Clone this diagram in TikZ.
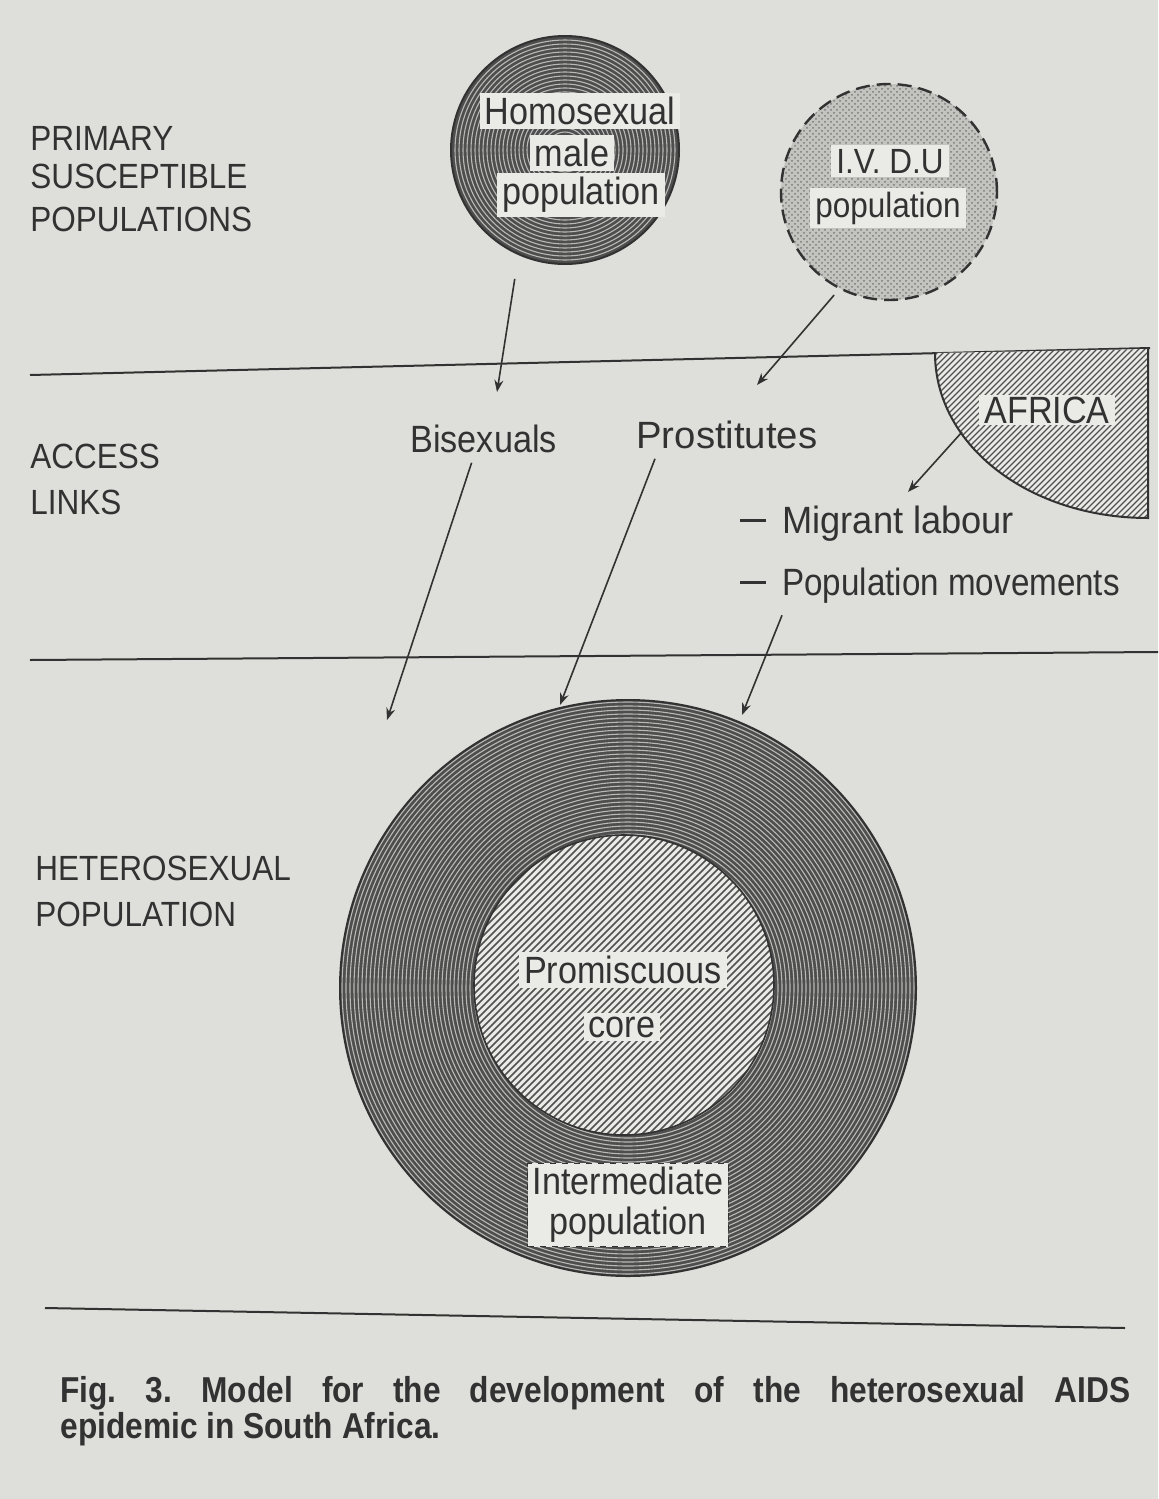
\documentclass[tikz,border=0pt]{standalone}
\usepackage{graphicx}
\usepackage{fontspec}
\setmainfont{Liberation Sans}
\newfontfamily\labfont[FakeStretch=0.9]{Liberation Sans}
\newfontfamily\capfont[FakeStretch=0.88]{Liberation Sans}
\usetikzlibrary{patterns,arrows.meta,calc}
\definecolor{paper}{RGB}{222,222,218}
\definecolor{ink}{RGB}{50,50,50}
\definecolor{darkfill}{RGB}{78,78,78}
\definecolor{ringline}{RGB}{185,185,182}
\definecolor{boxfill}{RGB}{234,234,230}
\newcommand{\bardash}{\rule[5.5pt]{13pt}{1.3pt}\hspace{8pt}}
\tikzset{
  lbl/.style={font=\labfont\fontsize{17.5}{20}\selectfont, text=ink, inner sep=0pt, anchor=base west},
  txt/.style={font=\labfont\fontsize{19}{20}\selectfont, text=ink, inner sep=0pt, anchor=base west},
  tag/.style={font=\labfont\fontsize{19}{20}\selectfont, text=ink, fill=boxfill, inner xsep=2.5pt, inner ysep=2pt},
  arr/.style={draw=ink, line width=0.8pt, -{Stealth[length=6pt,width=4.5pt]}},
  divider/.style={draw=ink, line width=1pt},
  ring/.style={draw=ringline, line width=0.55pt},
  disc/.style={circle, inner sep=0pt, outer sep=0pt, draw=ink, line width=1pt},
}
\begin{document}
\frenchspacing
\begin{tikzpicture}[x=0.5pt,y=-0.5pt]
\fill[paper] (0,0) rectangle (1158,1499);
\useasboundingbox (0,0) rectangle (1158,1499);

% ---------- left labels ----------
\node[lbl] (pri1) at (30,150) {PRIMARY};
\node[lbl] (pri2) at (30,188) {SUSCEPTIBLE};
\node[lbl] (pri3) at (30,231) {POPULATIONS};
\node[lbl] (acc1) at (30,468) {ACCESS};
\node[lbl] (acc2) at (30,514) {LINKS};
\node[lbl] (het1) at (35,880) {HETEROSEXUAL};
\node[lbl] (het2) at (35,926) {POPULATION};

% ---------- homosexual circle ----------
\fill[darkfill] (565,150) circle[radius=57pt];
\foreach \r in {2,6,...,110} \draw[ring] (565,150) circle[radius=\r*0.5pt];
\node[disc, minimum size=114pt] (hc) at (565,150) {};
\node[tag] (hm1) at (580,111) {Homosexual};
\node[tag] (hm2) at (572,153) {male};
\node[tag] (hm3) at (581,195) {population};

% ---------- IVDU circle ----------
\fill[paper!88!black] (889,192) circle[radius=54pt];
\fill[pattern=crosshatch dots, pattern color=ink!65] (889,192) circle[radius=54pt];
\node[disc, minimum size=108pt, dash pattern=on 7pt off 3.5pt, line width=1.2pt] (ivdu) at (889,192) {};
\node[tag, anchor=base, font=\labfont\fontsize{17.5}{20}\selectfont] (iv1) at (890,173) {I.V. D.U};
\node[tag, anchor=base, font=\labfont\fontsize{17.5}{20}\selectfont] (iv2) at (888,217) {population};

% ---------- dividers ----------
\draw[divider] (30,375) -- (1150,348);
\draw[divider] (30,660) -- (1158,652);
\draw[divider] (45,1308) -- (1125,1328);

% ---------- Africa ----------
\begin{scope}
\clip (935,353) .. controls (935,446) and (1030,518) .. (1148,518) -- (1148,349) -- cycle;
\fill[boxfill] (900,330) rectangle (1160,530);
\foreach \k in {0,6,...,480} \draw[ink!85, line width=0.6pt] ({900+\k-200},530) -- ({900+\k},330);
\end{scope}
\draw[ink, line width=1pt] (935,353) .. controls (935,446) and (1030,518) .. (1148,518) -- (1148,349);
\node[tag, inner ysep=1pt] (afr) at (1047,410) {AFRICA};
\coordinate (afs) at (962,432);

% ---------- access link labels ----------
\node[txt] (bis) at (410,452) {Bisexuals};
\node[txt] (pro) at (636,448) {\scalebox{1.12}[1]{Prostitutes}};
\node[txt] (mig) at (740,533) {\bardash\scalebox{1.06}[1]{Migrant labour}};
\node[txt] (pop) at (740,595) {\bardash\scalebox{0.97}[1]{Population movements}};

% ---------- heterosexual population ----------
\fill[darkfill] (628,988) circle[radius=144pt];
\foreach \r in {2,6,...,286} \draw[ring] (628,988) circle[radius=\r*0.5pt];
\node[disc, minimum size=288pt] (big) at (628,988) {};
\begin{scope}
\clip (624,985) circle[radius=75pt];
\fill[boxfill] (470,830) rectangle (780,1140);
\foreach \k in {-330,-323,...,330} \draw[ink!85, line width=0.75pt] ({624+\k-160},1145) -- ({624+\k+160},825);
\end{scope}
\node[disc, minimum size=150pt, line width=0.8pt] (core) at (624,985) {};
\node[tag] (pc1) at (623,970) {Promiscuous};
\node[tag] (pc2) at (622,1027) {core};
\node[tag, align=center, draw=ink, dashed, line width=0.5pt] (inter) at (628,1205) {Intermediate\\population};

% ---------- arrows ----------
\coordinate (t1) at (497,392);
\coordinate (t2) at (757,385);
\coordinate (t3) at (908,492);
\coordinate (t4) at (387,720);
\coordinate (t5) at (560,705);
\coordinate (t6) at (742,715);
\draw[arr, shorten <=12.5pt] (hc.246) -- (t1);
\draw[arr, shorten <=4.5pt] (ivdu.243) -- (t2);
\draw[arr] (afs) -- (t3);
\draw[arr] ($(bis.south)+(-12,10)$) -- (t4);
\draw[arr] ($(pro.south west)+(19,10)$) -- (t5);
\draw[arr] ($(pop.south west)+(42,12)$) -- (t6);

% ---------- caption ----------
\node[font=\capfont\bfseries\fontsize{18}{16.5}\selectfont, text=ink, text width=535pt, align=justify, anchor=north west, inner sep=0pt] (cap) at (60,1376) {Fig. 3. Model for the development of the heterosexual AIDS\linebreak epidemic in South Africa.};
\end{tikzpicture}
\end{document}
